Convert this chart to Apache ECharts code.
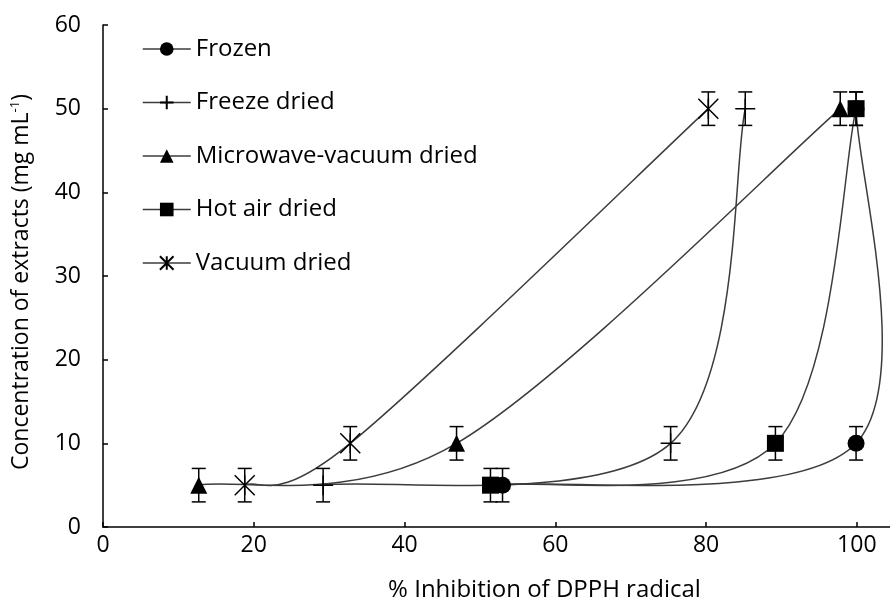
<!DOCTYPE html>
<html>
<head>
<meta charset="utf-8">
<script src="https://cdn.jsdelivr.net/npm/echarts@6/dist/echarts.min.js"></script>
<style>
html, body { margin: 0; padding: 0; background: #fff; }
#main { width: 890px; height: 603px; }
</style>
</head>
<body>
<div id="main"></div>
<script>
// concentration levels (y) shared by all treatments
var concentration = [5, 10, 50];
// % inhibition (x), one list per treatment
var frozenX = [53.0, 99.9, 99.9];
var freezeDriedX = [29.2, 75.3, 85.2];
var microwaveX = [12.7, 46.9, 97.8];
var hotAirX = [51.4, 89.2, 99.9];
var vacuumX = [18.8, 32.8, 80.3];
// error (+/-) on concentration
var errorY = [2, 2, 2];
var seriesNames = ['Frozen', 'Freeze dried', 'Microwave-vacuum dried', 'Hot air dried', 'Vacuum dried'];

var font = '"Open Sans", sans-serif';
var lineColor = '#3c3c3c';

function pairs(xs) {
    return xs.map(function (x, i) { return [x, concentration[i]]; });
}

// markers only, the line itself is drawn by makeCurve (excel-like smoothing)
function makeLine(name, xs, symbol, size, stroked) {
    return {
        name: name,
        type: 'line',
        data: pairs(xs),
        clip: false,
        symbol: symbol,
        symbolSize: size,
        showAllSymbol: true,
        z: 3,
        lineStyle: { color: lineColor, width: 1.5, opacity: 0 },
        itemStyle: stroked ? { color: '#000', borderColor: '#000', borderWidth: 1.5 } : { color: '#000', borderWidth: 0 },
        emphasis: { disabled: true },
        animation: false
    };
}

// smooth curve through the points, catmull-rom style like excel's "smoothed line"
function makeCurve(name, xs) {
    return {
        name: name + ' line',
        type: 'custom',
        data: pairs(xs),
        encode: { x: 0, y: 1 },
        z: 1,
        silent: true,
        clip: false,
        renderItem: function (params, api) {
            var i = params.dataIndex;
            if (i === 0) return null;
            var p = xs.map(function (x, k) { return api.coord([x, concentration[k]]); });
            var n = p.length;
            function tangent(k) {
                var a = p[Math.max(k - 1, 0)], b = p[Math.min(k + 1, n - 1)];
                return [(b[0] - a[0]) / 2, (b[1] - a[1]) / 2];
            }
            var t0 = tangent(i - 1), t1 = tangent(i);
            var p0 = p[i - 1], p1 = p[i];
            return {
                type: 'bezierCurve',
                shape: {
                    x1: p0[0], y1: p0[1], x2: p1[0], y2: p1[1],
                    cpx1: p0[0] + t0[0] / 3, cpy1: p0[1] + t0[1] / 3,
                    cpx2: p1[0] - t1[0] / 3, cpy2: p1[1] - t1[1] / 3
                },
                style: { stroke: lineColor, lineWidth: 1.5, fill: null }
            };
        }
    };
}

// error bars for every point
var errData = [];
[frozenX, freezeDriedX, microwaveX, hotAirX, vacuumX].forEach(function (xs) {
    xs.forEach(function (x, i) {
        errData.push([x, concentration[i], concentration[i] - errorY[i], concentration[i] + errorY[i]]);
    });
});

var chart = echarts.init(document.getElementById('main'));
var option = {
    animation: false,
    textStyle: { fontFamily: font },
    grid: { left: 103, top: 25, right: 0, bottom: 76, containLabel: false, outerBoundsMode: 'none' },
    legend: {
        orient: 'vertical',
        left: 137,
        top: 32,
        itemGap: 29.5,
        itemWidth: 48,
        itemHeight: 17,
        data: seriesNames,
        lineStyle: { color: lineColor, width: 1.5, opacity: 1 },
        textStyle: { fontFamily: font, fontSize: 24, color: '#000' },
        selectedMode: false
    },
    xAxis: {
        type: 'value',
        min: 0,
        max: 104.4,
        interval: 20,
        name: '% Inhibition of DPPH radical',
        nameLocation: 'middle',
        nameGap: 51,
        nameTextStyle: { fontFamily: font, fontSize: 24, color: '#000', padding: [0, 0, 0, 96] },
        axisLine: { show: true, lineStyle: { color: '#000', width: 1.5 } },
        axisTick: { show: true, inside: true, length: 5, lineStyle: { color: '#000', width: 1.5 } },
        axisLabel: { fontFamily: font, fontSize: 23, color: '#000', margin: 7, showMaxLabel: false },
        splitLine: { show: false }
    },
    yAxis: {
        type: 'value',
        min: 0,
        max: 60,
        interval: 10,
        name: '{a|Concentration of extracts (mg mL}{s|-1}{a|)}',
        nameLocation: 'middle',
        nameGap: 70,
        nameTextStyle: {
            padding: [0, 12, 0, 0],
            rich: {
                a: { fontFamily: font, fontSize: 23, color: '#000' },
                s: { fontFamily: font, fontSize: 13, color: '#000', verticalAlign: 'top', padding: [0, 0, 11, 0] }
            }
        },
        axisLine: { show: true, lineStyle: { color: '#000', width: 1.5 } },
        axisTick: { show: true, inside: true, length: 5, lineStyle: { color: '#000', width: 1.5 } },
        axisLabel: { fontFamily: font, fontSize: 23, color: '#000', margin: 22 },
        splitLine: { show: false }
    },
    series: [
        makeLine(seriesNames[0], frozenX, 'circle', 17, false),
        makeLine(seriesNames[1], freezeDriedX, 'path://M0,10L20,10M10,0L10,20', 20, true),
        makeLine(seriesNames[2], microwaveX, 'triangle', 17, false),
        makeLine(seriesNames[3], hotAirX, 'rect', 17, false),
        makeLine(seriesNames[4], vacuumX, 'path://M0,0L20,20M20,0L0,20M10,0L10,20', 20, true),
        makeCurve(seriesNames[0], frozenX),
        makeCurve(seriesNames[1], freezeDriedX),
        makeCurve(seriesNames[2], microwaveX),
        makeCurve(seriesNames[3], hotAirX),
        makeCurve(seriesNames[4], vacuumX),
        {
            name: 'error',
            type: 'custom',
            data: errData,
            encode: { x: 0, y: [2, 3] },
            z: 2,
            silent: true,
            renderItem: function (params, api) {
                var top = api.coord([api.value(0), api.value(3)]);
                var bot = api.coord([api.value(0), api.value(2)]);
                var w = 7;
                var st = { stroke: '#000', lineWidth: 1.5 };
                return {
                    type: 'group',
                    children: [
                        { type: 'line', shape: { x1: top[0], y1: top[1], x2: bot[0], y2: bot[1] }, style: st },
                        { type: 'line', shape: { x1: top[0] - w, y1: top[1], x2: top[0] + w, y2: top[1] }, style: st },
                        { type: 'line', shape: { x1: bot[0] - w, y1: bot[1], x2: bot[0] + w, y2: bot[1] }, style: st }
                    ]
                };
            }
        }
    ]
};
chart.setOption(option);
</script>
</body>
</html>
